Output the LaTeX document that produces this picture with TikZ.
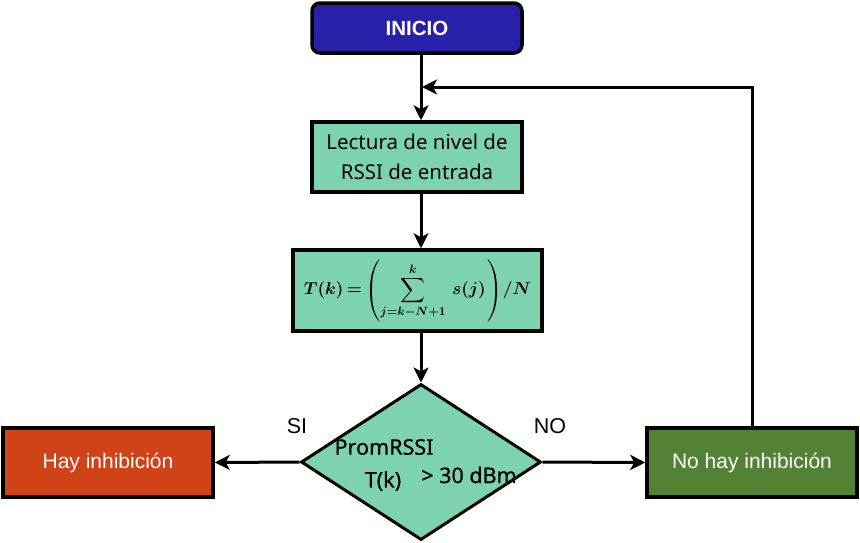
\documentclass[tikz,border=0pt]{standalone}
\usepackage{amsmath}
\usepackage{fontspec}
\setmainfont{Liberation Sans}
\newfontfamily\notofont{Noto Sans}
\newfontfamily\notomed[FakeBold=0.6]{Noto Sans}
\usetikzlibrary{arrows.meta,shapes.geometric}
\definecolor{mint}{RGB}{125,211,176}
\definecolor{iniblue}{RGB}{40,32,168}
\definecolor{redbox}{RGB}{208,66,24}
\definecolor{greenbox}{RGB}{84,130,53}
\newsavebox\myformbox
\newcommand\limtxt[1]{\text{\fontsize{13}{15}\selectfont\boldmath$#1$}}
\tikzset{
  box/.style={draw=black, line width=3.5pt, inner sep=0pt, minimum width=210pt, minimum height=69pt, font=\fontsize{21}{24}\selectfont},
  conn/.style={line width=3pt, -{Stealth[length=15pt,width=15pt,inset=4pt]}},
  lbl/.style={font=\fontsize{21.5}{24}\selectfont, inner sep=0pt},
  dtext/.style={font=\notomed\fontsize{21.5}{24}\selectfont, inner sep=0pt}
}
\begin{document}
\sbox\myformbox{\fontsize{18.5}{22}\selectfont\boldmath$\displaystyle T(k)\mkern-2mu=\mkern-2mu\left(\sum_{\limtxt{j{=}k{-}N{+}1}}^{\limtxt{k}}\mkern3mu s(j)\mkern2mu\right)\mkern-3mu/N$}%
\begin{tikzpicture}[x=1pt,y=-1pt]
\useasboundingbox (0,0) rectangle (860,542);
\node[box, fill=iniblue, rounded corners=8pt, text=white, minimum height=50pt, font=\bfseries\fontsize{20.5}{24}\selectfont] (inicio) at (417,28) {INICIO};
\node[box, fill=mint, minimum height=70pt, align=center, font=\notofont\fontsize{20.5}{30}\selectfont] (lect) at (417,157) {Lectura de nivel de\\RSSI de entrada};
\node[box, fill=mint, minimum width=249pt, minimum height=81pt] (form) at (417.5,290.5) {\usebox\myformbox};
\node[diamond, draw=black, line width=3pt, fill=mint, minimum width=240pt, minimum height=156pt, inner sep=0pt] (dec) at (421,462) {};
\node[box, fill=redbox, text=white] (hay) at (108,462.5) {Hay inhibición};
\node[box, fill=greenbox, text=white] (nohay) at (752,462.5) {No hay inhibición};
\node[dtext] (t1) at (384,447) {PromRSSI};
\node[dtext] (t2) at (383,481) {T(k)};
\node[dtext] (t3) at (469,475) {> 30 dBm};
\node[lbl] (si) at (297,426) {SI};
\node[lbl] (no) at (550,426) {NO};
\coordinate (fb) at (752,87);
\coordinate (fbend) at (422,87);
\draw[conn] (inicio.south -| dec.north) -- (lect.north -| dec.north);
\draw[conn] (lect.south -| dec.north) -- (form.north -| dec.north);
\draw[conn] (form.south -| dec.north) -- (dec.north);
\draw[conn] (dec.west) -- (hay.east);
\draw[conn] (dec.east) -- (nohay.west);
\draw[conn] (nohay.north) -- (fb) -- (fbend);
\end{tikzpicture}
\end{document}
